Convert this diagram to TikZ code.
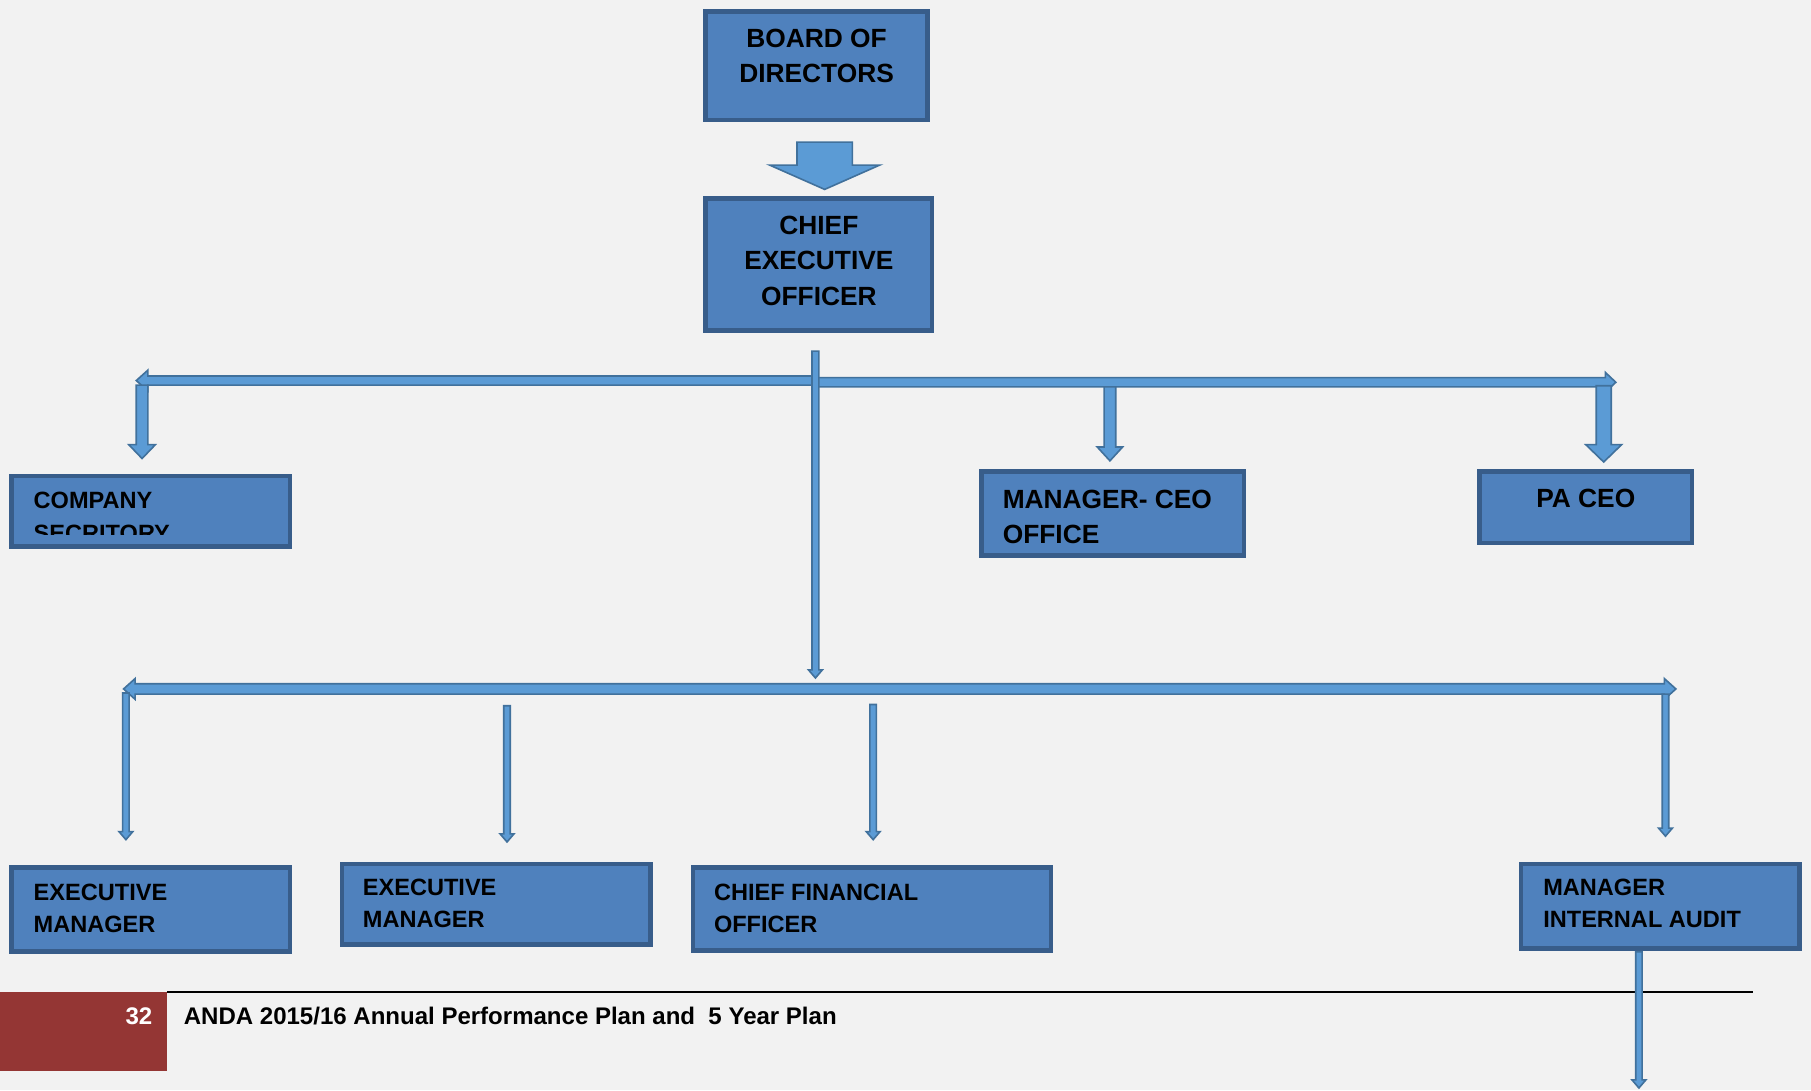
\documentclass[tikz,border=0pt]{standalone}
\usepackage{fontspec}
\setmainfont{Liberation Sans}
\definecolor{pagebg}{HTML}{F2F2F2}
\definecolor{boxfill}{HTML}{4F81BD}
\definecolor{boxline}{HTML}{385D8A}
\definecolor{arrowfill}{HTML}{5B9BD5}
\definecolor{arrowline}{HTML}{41719C}
\definecolor{pagered}{HTML}{943634}
% vertical block arrow: x, y start, y of head base, y tip, shaft half width, head half width
\newcommand\vblk[6]{%
  \path[blockarrow] (#1-#5,#2) -- (#1+#5,#2) -- (#1+#5,#3) -- (#1+#6,#3) -- (#1,#4)
    -- (#1-#6,#3) -- (#1-#5,#3) -- cycle;}
% horizontal block arrow: y, x start, x of head base, x tip, shaft half width, head half width
\newcommand\hblk[6]{%
  \path[blockarrow] (#2,#1-#5) -- (#3,#1-#5) -- (#3,#1-#6) -- (#4,#1) -- (#3,#1+#6)
    -- (#3,#1+#5) -- (#2,#1+#5) -- cycle;}
% two-headed horizontal block arrow: y, left tip, left head base, right head base, right tip, shaft half, head half
\newcommand\hdblk[7]{%
  \path[blockarrow] (#2,#1) -- (#3,#1-#7) -- (#3,#1-#6) -- (#4,#1-#6) -- (#4,#1-#7) -- (#5,#1)
    -- (#4,#1+#7) -- (#4,#1+#6) -- (#3,#1+#6) -- (#3,#1+#7) -- cycle;}
\begin{document}
\begin{tikzpicture}[x=1pt,y=-1pt,
  box/.style={draw=boxline,fill=boxfill,line width=4pt,inner sep=0pt,anchor=north west},
  blockarrow/.style={fill=arrowfill,draw=arrowline,line width=1.4pt,line join=miter},
  bigtxt/.style={inner sep=0pt,font=\bfseries\fontsize{22.8}{30.5}\selectfont},
  smalltxt/.style={inner sep=0pt,font=\bfseries\fontsize{20.4}{28}\selectfont},
  foottxt/.style={inner sep=0pt,font=\bfseries\fontsize{20.8}{24}\selectfont}]
\useasboundingbox (0,0) rectangle (1568,944);
\fill[pagebg] (0,0) rectangle (1568,944);

% footer
\draw[black,line width=2pt] (145,859) -- (1518,859);
\fill[pagered] (0,859) rectangle (145,927);
\node[foottxt,text=white,anchor=east] (pageno) at (132,880) {32};
\node[foottxt,anchor=west] (title) at (159,880) {ANDA 2015/16 Annual Performance Plan and\ \ 5 Year Plan};

% boxes (anchored at the outer edge of the frame)
\node[box,minimum width=192pt,minimum height=94pt]  (board)   at (609,8)    {};
\node[box,minimum width=196pt,minimum height=114pt] (ceo)     at (609,170)  {};
\node[box,minimum width=241pt,minimum height=61pt]  (company) at (8,410)    {};
\node[box,minimum width=227pt,minimum height=73pt]  (mgrceo)  at (848,406)  {};
\node[box,minimum width=184pt,minimum height=62pt]  (pa)      at (1279,406) {};
\node[box,minimum width=241pt,minimum height=73pt]  (em1)     at (8,749)    {};
\node[box,minimum width=267pt,minimum height=70pt]  (em2)     at (294,746)  {};
\node[box,minimum width=310pt,minimum height=72pt]  (cfo)     at (598,749)  {};
\node[box,minimum width=241pt,minimum height=73pt]  (audit)   at (1315,746) {};

% labels
\node[bigtxt,align=center,anchor=north] (boardtxt) at (707,25) {BOARD OF\\DIRECTORS};
\node[bigtxt,align=center,anchor=north] (ceotxt) at (709,187) {CHIEF\\EXECUTIVE\\OFFICER};
\node[bigtxt,align=left,anchor=north west] (mgrceotxt) at (868,424) {MANAGER- CEO\\OFFICE};
\node[bigtxt,anchor=north] (patxt) at (1373,423) {PA CEO};
\begin{scope}
  \clip (12,414) rectangle (249,463);
  \node[smalltxt,align=left,anchor=north west] (companytxt) at (29,426) {COMPANY\\SECRITORY};
\end{scope}
\node[smalltxt,align=left,anchor=north west] (em1txt) at (29,765) {EXECUTIVE\\MANAGER};
\node[smalltxt,align=left,anchor=north west] (em2txt) at (314,761) {EXECUTIVE\\MANAGER};
\node[smalltxt,align=left,anchor=north west] (cfotxt) at (618,765) {CHIEF FINANCIAL\\OFFICER};
\node[smalltxt,align=left,anchor=north west] (audittxt) at (1336,761) {MANAGER\\INTERNAL AUDIT};

% board to chief executive
\vblk{714}{123}{143}{164}{24}{47.5}

% upper distribution bar and its drops
\hblk{329.5}{706}{128}{118}{4}{9}
\hblk{331}{706}{1390}{1399}{4}{8.5}
\vblk{123}{333.5}{385}{397}{5}{11.5}
\vblk{961}{335}{387}{399}{5}{11}
\vblk{1388.5}{334}{385}{400}{6.5}{15.5}

% lower distribution bar
\hdblk{596.5}{107}{117}{1441}{1451}{4.5}{9}

% stem from the chief executive
\vblk{706}{304}{580}{587}{3}{6}

% thin drops to the lower row
\vblk{109}{600}{720}{727}{2.8}{6}
\vblk{439}{611}{722}{729}{2.8}{6}
\vblk{756}{610}{720}{727}{2.8}{6}
\vblk{1442}{601}{717}{724}{2.8}{6}
\vblk{1419}{824}{935}{942}{2.8}{6}
\end{tikzpicture}
\end{document}
